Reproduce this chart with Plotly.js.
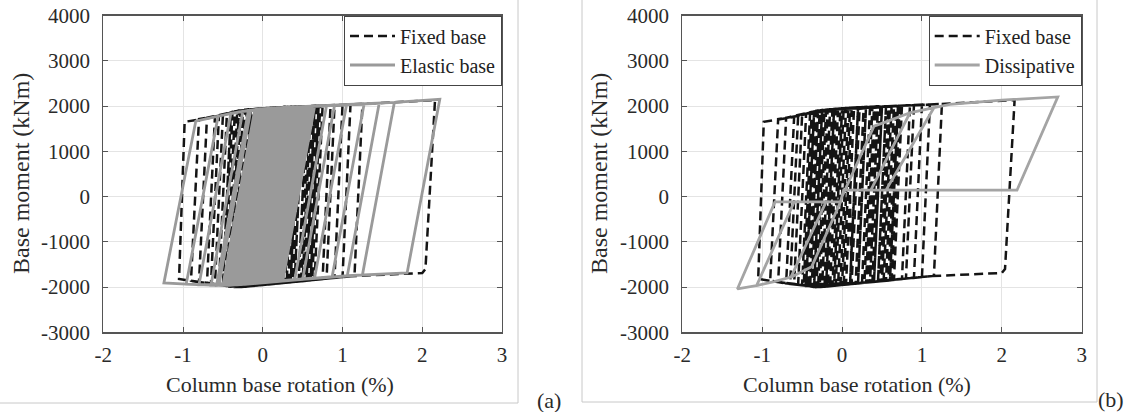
<!DOCTYPE html>
<html>
<head>
<meta charset="utf-8">
<script src="https://cdn.plot.ly/plotly-3.0.1.min.js"></script>
<style>html,body{margin:0;padding:0;background:#fff;}#chart{width:1128px;height:412px;}</style>
</head>
<body>
<div id="chart"></div>
<script>
// ---------- data (column base rotation in %, base moment in kNm) ----------
const fixedBaseRot = [0,0.05,0.35,0.25,-0.15,-0.05,0.55,0.45,-0.3,-0.2,0.2,0.1,-0.45,-0.35,0.0,0.65,0.55,-0.05,0.05,0.45,0.35,-0.3,-0.6,-0.5,-0.3,0.0,0.75,0.65,-0.25,-0.15,0.3,0.2,-0.3,-0.7,-0.6,-0.3,0.0,0.85,0.75,0.2,-0.4,-0.3,0.6,0.5,-0.3,-0.8,-0.7,-0.4,0.0,1.0,0.9,0.4,-0.2,-0.1,0.5,0.4,-0.3,-0.9,-0.8,-0.5,-0.3,0.3,1.1,1.0,0.5,-0.3,-0.5,-0.4,0.7,0.6,-0.3,-0.7,-1.05,-0.98,-0.6,-0.3,0.5,1.25,1.15,0.4,-0.35,-0.25,0.9,0.8,-0.3,-0.65,-0.55,-0.3,0.5,1.3,2.16,2.04,2.0,1.1,0.4,-0.1,0.0,0.4,0.3,-0.55,-0.45,0.15,0.05,-0.4,-0.3,0.6,0.5,-0.2,-0.1,0.7,0.6,-0.3,-0.45,-0.35,0.0,0.3,0.2,-0.1,0.0,0.55,0.45,-0.3,-0.5,-0.4,0.0,0.45,0.35,-0.25,-0.15,0.65,0.55,0.0,0.1,0.5,0.4,-0.35,-0.25,0.2,0.1,
  -0.12,-0.02,0.27,0.17,-0.38,-0.28,0.62,0.52,-0.22,-0.12,0.48,0.38,-0.08,0.02,0.68,0.58,-0.32,-0.22,0.38,0.28,-0.42,-0.32,0.12,0.02,-0.18,-0.08,0.72,0.62,-0.28,-0.18,0.58,0.48,-0.02,0.08,0.42,0.32,-0.48,-0.38,0.22,0.12,0.1];
const fixedBaseMom = [0,1955,1982,-1910,-1980,1940,1992,-1870,-2000,1920,1970,-1935,-1975,1880,1950,1997,-1860,-1960,1955,1988,-1890,-2000,-1940,1800,1900,1950,2005,-1840,-1995,1928,1980,-1920,-2000,-1920,1760,1900,1950,2015,-1825,-1920,-1990,1900,1995,-1860,-2000,-1890,1740,1860,1950,2025,-1790,-1880,-1990,1935,1990,-1880,-2000,-1860,1710,1800,1900,1980,2030,-1780,-1860,-2000,-1960,1860,2000,-1850,-2000,-1920,-1820,1650,1760,1900,1990,2045,-1755,-1880,-1995,1910,2020,-1810,-2000,-1930,1780,1900,1990,2050,2130,-1600,-1690,-1760,-1880,-1970,1950,1985,-1900,-1950,1830,1965,-1940,-1990,1900,1995,-1860,-1990,1935,2000,-1850,-2000,-1975,1880,1950,1980,-1920,-1970,1950,1992,-1870,-2000,-1960,1860,1950,1988,-1890,-1995,1928,1997,-1860,-1950,1960,1990,-1880,-1995,1910,1970,-1935,
  -1975,1945,1978,-1925,-1993,1905,1996,-1865,-1992,1932,1989,-1885,-1965,1952,1999,-1855,-2000,1918,1984,-1902,-1985,1895,1962,-1948,-1985,1938,2002,-1848,-1998,1924,1994,-1866,-1955,1958,1986,-1895,-1968,1870,1972,-1930,0];

const elasticBaseRot = [0,0.2,0.4,0.0,-0.25,0.15,0.55,0.15,-0.4,0.0,0.3,-0.1,-0.5,-0.1,0.65,0.25,-0.2,0.2,0.45,0.05,-0.58,-0.18,0.4,0.8,0.4,-0.35,0.05,0.35,-0.05,-0.65,-0.25,0.4,1.05,0.65,-0.45,-0.05,0.5,0.1,-0.8,-0.4,0.0,0.8,1.27,0.87,-0.3,0.1,0.6,0.2,-0.58,-0.96,-0.56,-0.2,0.4,1.0,1.46,1.06,0.5,-0.55,-0.15,0.9,0.5,-0.58,-0.9,-1.24,-0.84,-0.6,-0.3,0.2,1.0,1.65,2.22,1.81,1.06,0.5,0.0,-0.4,0.0,1.0,1.65,1.25,0.5,-0.2,0.2,0.45,0.05,-0.15,0.25,0.35,-0.05,-0.3,0.1,0.5,0.1,-0.1,0.3,0.4,0.0,-0.25,0.15,0.5,0.1,-0.35,0.05,0.45,0.05,-0.45,-0.05,0.3,-0.1,-0.3,0.1,0.6,0.2,-0.2,0.2,0.55,0.15,-0.4,0.0,0.4,0.0,-0.1,0.3,0.5,0.1,-0.5,-0.1,0.35,-0.05,-0.2,0.2,0.25,-0.15,-0.35,0.05,0.45,0.05,-0.25,
  0.15,0.28,-0.12,-0.32,0.08,0.52,0.12,-0.42,-0.02,0.38,-0.02,-0.18,0.22,0.58,0.18,-0.28,0.12,0.42,0.02,-0.48,-0.08,0.32,-0.08,-0.38,0.02,0.48,0.08,-0.22,0.18,0.62,0.22,-0.15,0.25,0.5,0.1,-0.35,0.05,0.4,0.0,-0.05,0.15];
const elasticBaseMom = [0,1960,1980,-1900,-1940,1955,1988,-1880,-1958,1940,1972,-1920,-1962,1920,1995,-1865,-1935,1960,1984,-1890,-1963,1905,1980,2010,-1840,-1950,1945,1975,-1910,-1960,1890,1980,2025,-1800,-1960,1935,1986,-1885,-1950,1840,1940,2010,2040,-1770,-1950,1950,1990,-1875,-1963,-1935,1775,1900,1980,2025,2060,-1750,-1830,-1962,1910,2015,-1830,-1963,-1940,-1911,1667,1760,1870,1960,2030,2080,2150,-1690,-1750,-1830,-1900,-1955,1940,2025,2080,-1730,-1830,-1935,1960,1984,-1890,-1925,1965,1975,-1910,-1950,1950,1986,-1885,-1915,1972,1980,-1900,-1940,1955,1986,-1885,-1950,1945,1984,-1890,-1960,1935,1972,-1920,-1950,1950,1990,-1875,-1935,1960,1988,-1880,-1958,1940,1980,-1900,-1915,1972,1986,-1885,-1962,1920,1975,-1910,-1935,1960,1965,-1925,-1950,1945,1984,-1890,-1940,
  1955,1970,-1922,-1948,1948,1987,-1883,-1959,1938,1978,-1905,-1932,1962,1990,-1878,-1944,1952,1982,-1895,-1961,1925,1974,-1915,-1955,1942,1985,-1888,-1938,1958,1994,-1870,-1925,1965,1986,-1885,-1950,1945,1980,-1900,-1908,0];

const dissipativeRot = [0,0.40,0.55,0.85,0.36,0.02,-0.02,-0.38,-0.64,-0.20,-0.02,0.02,0.36,0.85,1.15,0.55,0.02,-0.02,-0.20,-0.64,-0.85,-1.07,-0.60,-0.02,0.02,0.55,1.15,1.35,2.0,2.7,2.19,0.02,-0.02,-0.60,-1.07,-1.31,-0.84,-0.02,0.02,0.6];
const dissipativeMom = [0,1555,1650,1850,140,140,-120,-1550,-1781,-120,-120,140,140,1850,1963,140,140,-120,-120,-1781,-1880,-1968,-120,-120,140,140,1963,2037,2130,2200,140,140,-120,-120,-1968,-2042,-120,-120,140,140];

const xTickVals = [-2,-1,0,1,2,3];
const xTickText = ["-2","-1","0","1","2","3"];
const yTickVals = [-3000,-2000,-1000,0,1000,2000,3000,4000];
const yTickText = ["-3000","-2000","-1000","0","1000","2000","3000","4000"];
const seriesNames = ["Fixed base","Elastic base","Dissipative"];
const axisTitleX = "Column base rotation (%)";
const axisTitleY = "Base moment (kNm)";
const panelLabels = ["(a)","(b)"];

// ---------- styling ----------
const FONT = "Liberation Serif, Times New Roman, serif";
const W = 1128, H = 412;
const px = v => v / W;
const py = v => 1 - v / H;

const black = {color:"#141414", width:2.5, dash:"9px,5px", simplify:false};
const grayE = {color:"#9a9a9a", width:2.8, simplify:false};
const grayD = {color:"#a4a4a4", width:2.8, simplify:false};

const traces = [
  {x:fixedBaseRot, y:fixedBaseMom, xaxis:"x", yaxis:"y", mode:"lines", name:seriesNames[0], line:black, legend:"legend"},
  {x:elasticBaseRot, y:elasticBaseMom, xaxis:"x", yaxis:"y", mode:"lines", name:seriesNames[1], line:grayE, legend:"legend"},
  {x:fixedBaseRot, y:fixedBaseMom, xaxis:"x2", yaxis:"y2", mode:"lines", name:seriesNames[0], line:black, legend:"legend2"},
  {x:dissipativeRot, y:dissipativeMom, xaxis:"x2", yaxis:"y2", mode:"lines", name:seriesNames[2], line:grayD, legend:"legend2"}
];

function xax(domain, anchor){
  return {domain:domain, anchor:anchor, range:[-2,3], tickmode:"array", tickvals:xTickVals, ticktext:xTickText, ticks:"inside", ticklen:5, tickcolor:"#555",
    showgrid:true, gridcolor:"#e4e4e4", gridwidth:1, zeroline:false, showline:true, linecolor:"#555", linewidth:1.2,
    mirror:"ticks", tickfont:{family:FONT, size:21, color:"#2a2a2a"}, ticklabelstandoff:3, fixedrange:true};
}
function yax(anchor){
  return {domain:[py(332.3), py(15.5)], anchor:anchor, range:[-3000,4000], tickmode:"array", tickvals:yTickVals, ticktext:yTickText, ticks:"inside", ticklen:5, tickcolor:"#555",
    showgrid:true, gridcolor:"#e4e4e4", gridwidth:1, zeroline:false, showline:true, linecolor:"#555", linewidth:1.2,
    mirror:"ticks", tickfont:{family:FONT, size:21, color:"#2a2a2a"}, ticklabelstandoff:8, fixedrange:true};
}
function leg(xr){
  return {x:xr, y:py(15.5), xanchor:"right", yanchor:"top", bgcolor:"#ffffff", bordercolor:"#444", borderwidth:1,
    font:{family:FONT, size:20, color:"#222"}, tracegroupgap:0, itemclick:false, itemwidth:45};
}
function ann(text, x, y, size, angle){
  return {text:text, x:x, y:y, xref:"paper", yref:"paper", showarrow:false, xanchor:"center", yanchor:"middle",
    font:{family:FONT, size:size, color:"#2a2a2a"}, textangle:angle||0};
}
const lineStyle = {color:"#c8c8c8", width:1};
const layout = {
  width:W, height:H, margin:{l:0,r:0,t:0,b:0}, paper_bgcolor:"#fff", plot_bgcolor:"#fff",
  font:{family:FONT},
  xaxis:xax([px(103.3), px(502)], "y"),
  yaxis:yax("x"),
  xaxis2:xax([px(682.3), px(1081.7)], "y2"),
  yaxis2:yax("x2"),
  legend:leg(px(502)),
  legend2:leg(px(1081.7)),
  annotations:[
    ann(axisTitleX, px(280), py(384), 22),
    ann(axisTitleX, px(857), py(384), 22),
    ann(axisTitleY, px(21), py(174), 24, -90),
    ann(axisTitleY, px(599), py(174), 24, -90),
    ann(panelLabels[0], px(549), py(400), 22),
    ann(panelLabels[1], px(1111), py(399), 22)
  ],
  shapes:[
    {type:"line", xref:"paper", yref:"paper", x0:0, x1:px(518), y0:py(403), y1:py(403), line:lineStyle},
    {type:"line", xref:"paper", yref:"paper", x0:px(518), x1:px(518), y0:py(403), y1:1, line:lineStyle},
    {type:"line", xref:"paper", yref:"paper", x0:px(582), x1:px(1097), y0:py(402), y1:py(402), line:lineStyle},
    {type:"line", xref:"paper", yref:"paper", x0:px(582), x1:px(582), y0:py(402), y1:1, line:lineStyle},
    {type:"line", xref:"paper", yref:"paper", x0:px(1097), x1:px(1097), y0:py(402), y1:1, line:lineStyle}
  ],
  showlegend:true
};
Plotly.newPlot("chart", traces, layout, {staticPlot:true, displayModeBar:false});
</script>
</body>
</html>
